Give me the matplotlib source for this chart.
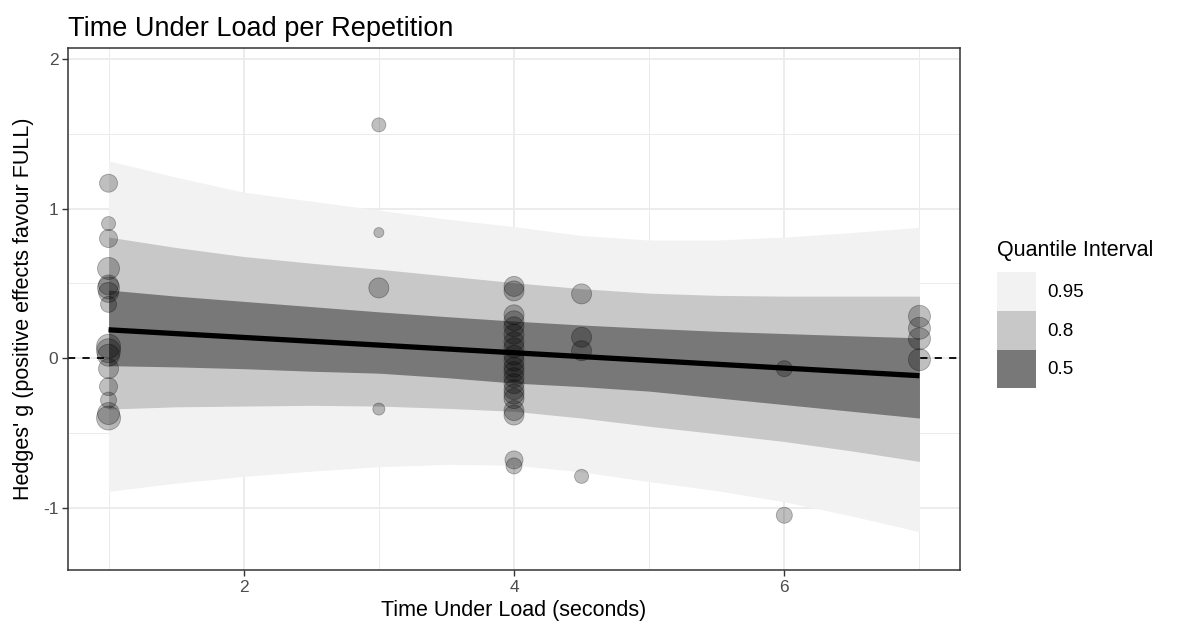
import matplotlib
matplotlib.use("Agg")
import matplotlib.pyplot as plt
from matplotlib.patches import Patch
import numpy as np

plt.rcParams['font.family'] = ['Liberation Sans', 'DejaVu Sans']
plt.rcParams['axes.unicode_minus'] = False

# observed effects: time under load (s), Hedges' g, point radius (px, ~weight)
pts_x = [1]*16 + [3]*4 + [4]*21 + [4.5]*4 + [6]*2 + [7]*4
pts_y = [1.17, 0.90, 0.80, 0.60, 0.49, 0.47, 0.44, 0.36, 0.08, 0.05, 0.02, -0.07, -0.19, -0.28, -0.37, -0.40,
         1.56, 0.84, 0.47, -0.34,
         0.48, 0.45, 0.29, 0.25, 0.21, 0.16, 0.11, 0.07, 0.02, -0.02, -0.06, -0.09, -0.13, -0.17, -0.21,
         -0.24, -0.27, -0.35, -0.38, -0.68, -0.72,
         0.43, 0.14, 0.05, -0.79,
         -0.07, -1.05,
         0.28, 0.20, 0.13, -0.01]
pts_r = [9, 7, 9, 11, 10, 11, 10, 8, 12, 12, 11, 10, 9, 8, 11, 12,
         7, 5, 10, 6,
         10, 10, 10, 10, 10, 10, 10, 10, 10, 10, 10, 10, 10, 10, 10, 10, 10, 10, 10, 9, 8,
         10, 10, 10, 7,
         8, 8,
         11, 11, 11, 11]

# posterior prediction ribbons
grid_x = [1, 1.5, 2, 2.5, 3, 3.5, 4, 4.5, 5, 5.5, 6, 6.5, 7]
q95_hi = [1.32, 1.21, 1.11, 1.05, 0.99, 0.93, 0.88, 0.82, 0.79, 0.79, 0.81, 0.84, 0.875]
q95_lo = [-0.89, -0.835, -0.79, -0.755, -0.725, -0.71, -0.715, -0.76, -0.825, -0.885, -0.96, -1.055, -1.16]
q80_hi = [0.81, 0.74, 0.68, 0.635, 0.595, 0.55, 0.505, 0.465, 0.435, 0.42, 0.415, 0.415, 0.415]
q80_lo = [-0.34, -0.325, -0.32, -0.315, -0.32, -0.335, -0.355, -0.40, -0.455, -0.505, -0.557, -0.62, -0.69]
q50_hi = [0.456, 0.415, 0.38, 0.345, 0.31, 0.278, 0.248, 0.222, 0.20, 0.18, 0.165, 0.15, 0.136]
q50_lo = [-0.05, -0.058, -0.07, -0.087, -0.10, -0.13, -0.166, -0.19, -0.22, -0.265, -0.31, -0.355, -0.40]
line_x = [1, 7]
line_y = [0.19, -0.117]

levels = ['0.95', '0.8', '0.5']
fills = ['#f2f2f2', '#c8c8c8', '#787878']

fig = plt.figure(figsize=(11.78, 6.28), dpi=100)
ax = fig.add_axes([68/1178, 1 - 570/628, (960 - 68)/1178, (570 - 48)/628])

ax.axhline(0, color='black', lw=1.3, ls=(0, (4, 4)), zorder=1)
bands = [(q95_lo, q95_hi), (q80_lo, q80_hi), (q50_lo, q50_hi)]
for (lo, hi), c in zip(bands, fills):
    ax.fill_between(grid_x, lo, hi, color=c, lw=0, zorder=2)

s = [(2 * r * 0.72) ** 2 for r in pts_r]
ax.scatter(pts_x, pts_y, s=s, facecolor=(0, 0, 0, 0.25), edgecolor=(0, 0, 0, 0.3), lw=0.6, zorder=3)
ax.plot(line_x, line_y, color='black', lw=3.8, solid_capstyle='butt', zorder=4)

ax.set_xlim(0.7, 7.3)
ax.set_ylim(-1.416, 2.074)
ax.set_xticks([2, 4, 6])
ax.set_xticks([1, 3, 5, 7], minor=True)
ax.set_yticks([-1, 0, 1, 2])
ax.set_yticks([-0.5, 0.5, 1.5], minor=True)
ax.grid(which='major', color='#ebebeb', lw=1.3, zorder=0)
ax.grid(which='minor', color='#ebebeb', lw=0.7, zorder=0)
ax.set_axisbelow(True)
ax.tick_params(which='major', length=4, width=1, color='#333333', labelsize=12.5, labelcolor='#4d4d4d', pad=3)
ax.tick_params(which='minor', length=0)
for sp in ax.spines.values():
    sp.set_color('#333333')
    sp.set_linewidth(1.1)

ax.set_xlabel('Time Under Load (seconds)', fontsize=15.5, labelpad=4)
ax.set_ylabel("Hedges' g (positive effects favour FULL)", fontsize=15.5, labelpad=6)
ax.set_title('Time Under Load per Repetition', fontsize=19.5, loc='left', pad=9)

handles = [Patch(facecolor=c, edgecolor='none') for c in fills]
leg = ax.legend(handles, levels, title='Quantile Interval', loc='upper left',
                bbox_to_anchor=(997/1178, 1 - 240/628), bbox_transform=fig.transFigure,
                frameon=False, fontsize=13.5, title_fontsize=15.5, handlelength=2.1, handleheight=2.8,
                labelspacing=0, handletextpad=0.6, borderpad=0, borderaxespad=0)
leg._legend_box.align = 'left'
leg._legend_box.sep = 8

fig.savefig('out.png', dpi=100)
